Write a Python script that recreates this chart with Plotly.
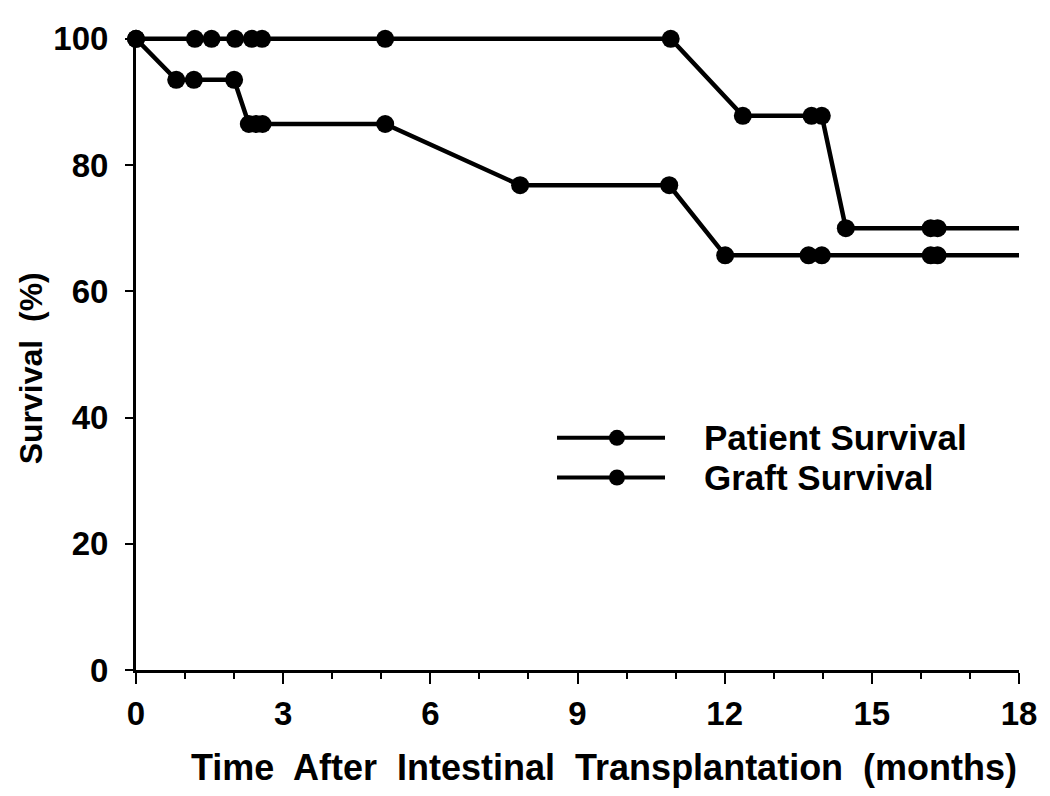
import plotly.graph_objects as go

# Kaplan-Meier style survival after intestinal transplantation
# event times (months) and survival (%)
patient_months = [0, 1.2, 1.54, 2.02, 2.36, 2.57, 5.08, 10.9, 12.37, 13.77, 13.98, 14.47, 16.2, 16.34]
patient_survival = [100, 100, 100, 100, 100, 100, 100, 100, 87.8, 87.8, 87.8, 70, 70, 70]

graft_months = [0, 0.82, 1.18, 2.0, 2.3, 2.45, 2.58, 5.08, 7.83, 10.87, 12.01, 13.71, 13.98, 16.2, 16.34]
graft_survival = [100, 93.5, 93.5, 93.5, 86.5, 86.5, 86.5, 86.5, 76.8, 76.8, 65.7, 65.7, 65.7, 65.7, 65.7]

followup_end = 18  # curves are carried flat to the end of follow-up

x_ticks = [0, 3, 6, 9, 12, 15, 18]
y_ticks = [0, 20, 40, 60, 80, 100]

legend_labels = ['Patient Survival', 'Graft Survival']

FONT = 'Liberation Sans, Arial, Helvetica, sans-serif'
BLACK = '#000000'

traces = []
for months, surv in [(patient_months, patient_survival), (graft_months, graft_survival)]:
    # line carried out to end of follow-up
    traces.append(go.Scatter(
        x=months + [followup_end],
        y=surv + [surv[-1]],
        mode='lines',
        line=dict(color=BLACK, width=4.5),
        cliponaxis=False,
        showlegend=False,
        hoverinfo='skip'
    ))
    # events as filled dots
    traces.append(go.Scatter(
        x=months,
        y=surv,
        mode='markers',
        marker=dict(color=BLACK, size=18, line=dict(width=0)),
        cliponaxis=False,
        showlegend=False
    ))

fig = go.Figure(data=traces)

# hand-drawn legend: long line with a dot in the middle, text to the right
legend_rows = [0.3656, 0.3031]
shapes = []
annotations = []
for label, yp in zip(legend_labels, legend_rows):
    shapes.append(dict(type='line', xref='paper', yref='paper',
                       x0=0.4768, x1=0.5991, y0=yp, y1=yp,
                       line=dict(color=BLACK, width=4)))
    shapes.append(dict(type='circle', xref='paper', yref='paper',
                       xsizemode='pixel', ysizemode='pixel',
                       xanchor=0.5447, yanchor=yp,
                       x0=-8, x1=8, y0=-8, y1=8,
                       fillcolor=BLACK, line=dict(width=0)))
    annotations.append(dict(xref='paper', yref='paper', x=0.641, y=yp,
                            xanchor='left', yanchor='middle', text=label,
                            showarrow=False,
                            font=dict(family=FONT, size=35, color=BLACK, weight='bold')))

# x title sits right-aligned with the end of the axis
annotations.append(dict(xref='paper', yref='paper', x=1.0, y=-0.153,
                        xanchor='right', yanchor='middle',
                        text='Time  After  Intestinal  Transplantation  (months)',
                        showarrow=False,
                        font=dict(family=FONT, size=36, color=BLACK, weight='bold')))
# y title
annotations.append(dict(xref='paper', yref='paper', x=-0.119, y=0.475,
                        xanchor='center', yanchor='middle', textangle=-90,
                        text='Survival  (%)', showarrow=False,
                        font=dict(family=FONT, size=32, color=BLACK, weight='bold')))

fig.update_layout(
    width=1050,
    height=796,
    plot_bgcolor='white',
    paper_bgcolor='white',
    margin=dict(l=128, r=39, t=18, b=134),
    showlegend=False,
    shapes=shapes,
    annotations=annotations,
    font=dict(family=FONT, color=BLACK),
    xaxis=dict(
        range=[0, followup_end],
        tickvals=x_ticks,
        ticks='outside',
        ticklen=11,
        tickwidth=2,
        tickcolor=BLACK,
        showline=True,
        linecolor=BLACK,
        linewidth=3,
        showgrid=False,
        zeroline=False,
        ticklabelstandoff=1,
        tickfont=dict(family=FONT, size=33, color=BLACK, weight='bold'),
        minor=dict(dtick=1, ticks='outside', ticklen=6, tickwidth=2, tickcolor=BLACK, showgrid=False)
    ),
    yaxis=dict(
        range=[0, 100.6],
        tickvals=y_ticks,
        ticks='outside',
        ticklen=8,
        tickwidth=2,
        tickcolor=BLACK,
        showline=True,
        linecolor=BLACK,
        linewidth=3,
        showgrid=False,
        zeroline=False,
        ticklabelstandoff=10,
        tickfont=dict(family=FONT, size=33, color=BLACK, weight='bold')
    )
)

fig.write_html("out.html")
